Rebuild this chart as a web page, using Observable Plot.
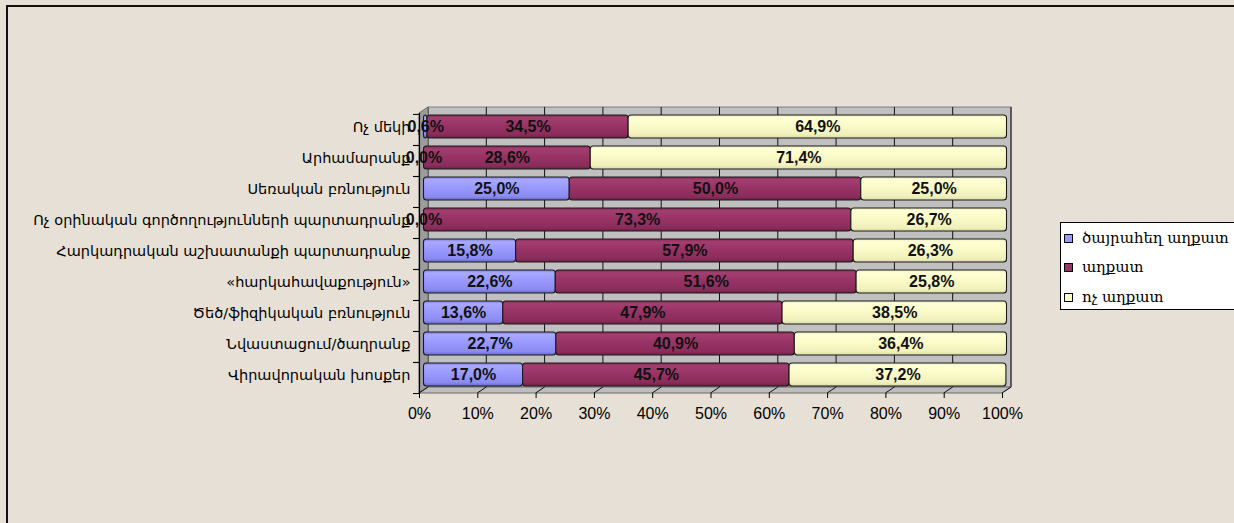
<!DOCTYPE html>
<html><head><meta charset="utf-8">
<script src="https://cdn.jsdelivr.net/npm/d3@7"></script>
<script src="https://cdn.jsdelivr.net/npm/@observablehq/plot@0.6"></script>
<style>
body{margin:0;background:#e7e0d6;}
#wrap{position:relative;width:1234px;height:523px;overflow:hidden;background:#e7e0d6;}
#border{position:absolute;left:6px;top:5px;width:1300px;height:600px;border:2px solid #111;box-sizing:border-box;}
#chart{position:absolute;left:0;top:0;}
#legend{position:absolute;left:1060px;top:222px;width:190px;height:86px;background:#fff;border:1px solid #000;font-family:"DejaVu Serif",serif;font-size:15px;color:#000;}
.item{position:absolute;left:3px;height:20px;line-height:20px;display:flex;align-items:center;white-space:nowrap;}
.sw{width:7px;height:7px;border:1px solid #000;margin-right:9px;}
</style></head><body><div id="wrap"><div id="border"></div><div id="chart"></div><div id="legend"></div></div>
<script>
const categories = [
  "Ոչ մեկի",
  "Արհամարանք",
  "Սեռական բռնություն",
  "Ոչ օրինական գործողությունների պարտադրանք",
  "Հարկադրական աշխատանքի պարտադրանք",
  "«հարկահավաքություն»",
  "Ծեծ/ֆիզիկական բռնություն",
  "Նվաստացում/ծաղրանք",
  "Վիրավորական խոսքեր"
];
const extremePoor = [0.6, 0.0, 25.0, 0.0, 15.8, 22.6, 13.6, 22.7, 17.0];
const poor = [34.5, 28.6, 50.0, 73.3, 57.9, 51.6, 47.9, 40.9, 45.7];
const notPoor = [64.9, 71.4, 25.0, 26.7, 26.3, 25.8, 38.5, 36.4, 37.2];
const seriesNames = ["ծայրահեղ աղքատ", "աղքատ", "ոչ աղքատ"];
const seriesColors = ["#9999ff", "#993366", "#ffffcc"];
const gradientIds = ["gBlue", "gMaroon", "gYellow"];
const xTicks = d3.range(0, 101, 10);

const seriesValues = [extremePoor, poor, notPoor];
const data = categories.flatMap((c, i) => seriesNames.map((s, k) => ({cat: c, series: s, value: seriesValues[k][i]})));
const fmt = v => v.toFixed(1).replace(".", ",") + "%";

const BX = 4.5, BY = -3;
const chart = Plot.plot({
  width: 1234, height: 523,
  marginLeft: 419, marginRight: 232, marginTop: 113, marginBottom: 130,
  style: {background: "transparent", overflow: "visible", fontFamily: "'Liberation Sans', 'DejaVu Sans', sans-serif", color: "#000"},
  x: {domain: [0, 100], axis: null, label: null},
  y: {domain: categories, paddingInner: 0.26, paddingOuter: 0.13, axis: null, label: null},
  color: {domain: seriesNames, range: gradientIds.map(id => `url(#${id})`)},
  marks: [
    Plot.barX(data, Plot.stackX({x: "value", y: "cat", z: "series", fill: "series", stroke: "#1a1a1a", strokeWidth: 1.1, rx: 3, dx: BX, dy: BY})),
    Plot.text(data, Plot.stackX({x: "value", y: "cat", z: "series", text: d => fmt(d.value), dx: BX, dy: BY, fontWeight: "bold", fontSize: 16, fill: "#111"})),
    Plot.axisY({label: null, tickSize: 0, tickPadding: 9, dy: BY, fontSize: 14.5, fontFamily: "DejaVu Sans"}),
    Plot.axisY({label: null, tickSize: 6, tickFormat: () => "", dy: 15.55}),
    Plot.axisY({label: null, tickSize: 6, tickFormat: () => "", dy: -15.55}),
    Plot.ruleX([0], {stroke: "#000", strokeWidth: 1.2}),
    Plot.axisX({label: null, ticks: xTicks, tickSize: 5, tickPadding: 9, tickFormat: d => d + "%", fontSize: 16})
  ]
});

// gradients
const svg = d3.select(chart);
const defs = svg.insert("defs", ":first-child");
const grads = {
  gBlue: [["0", "#7d7de0"], ["0.12", "#a9a9ff"], ["0.45", "#9999ff"], ["0.85", "#8a8af0"], ["1", "#6a6ac8"]],
  gMaroon: [["0", "#84294f"], ["0.12", "#a23f70"], ["0.45", "#993366"], ["0.85", "#8a2d5b"], ["1", "#6e2045"]],
  gYellow: [["0", "#ededbd"], ["0.12", "#ffffd6"], ["0.45", "#fbfbc8"], ["0.85", "#f0f0bc"], ["1", "#dcdca8"]]
};
for (const id of gradientIds) {
  const lg = defs.append("linearGradient").attr("id", id).attr("x1", 0).attr("y1", 0).attr("x2", 0).attr("y2", 1);
  for (const [o, c] of grads[id]) lg.append("stop").attr("offset", o).attr("stop-color", c);
}

// 3D wall, side face and floor derived from the scales
const sx = chart.scale("x"), sy = chart.scale("y");
const [y0, y1] = sy.range;
const X = v => sx.apply(v);
const DX = 9, DY = -6;
const g = d3.create("svg:g");
g.append("rect").attr("x", X(0) + DX).attr("y", y0 + DY).attr("width", X(100) - X(0)).attr("height", y1 - y0)
  .attr("fill", "#c0c0c0").attr("stroke", "#808080");
for (const t of xTicks) g.append("line").attr("x1", X(t) + DX).attr("x2", X(t) + DX).attr("y1", y0 + DY).attr("y2", y1 + DY).attr("stroke", "#111");
g.append("polygon").attr("points", [[X(0), y0], [X(0) + DX, y0 + DY], [X(0) + DX, y1 + DY], [X(0), y1]].join(" "))
  .attr("fill", "#9c9c9c").attr("stroke", "#6a6a6a");
g.append("polygon").attr("points", [[X(0), y1], [X(100), y1], [X(100) + DX, y1 + DY], [X(0) + DX, y1 + DY]].join(" "))
  .attr("fill", "#bdbdbd").attr("stroke", "#6a6a6a");
for (const t of xTicks) g.append("line").attr("x1", X(t)).attr("x2", X(t) + DX).attr("y1", y1).attr("y2", y1 + DY).attr("stroke", "#111");
const barG = chart.querySelector('g[aria-label="bar"]');
chart.insertBefore(g.node(), barG);

document.getElementById("chart").appendChild(chart);

// legend
const legend = d3.select("#legend");
const itemTops = [5, 34, 64];
seriesNames.forEach((s, k) => {
  const it = legend.append("div").attr("class", "item").style("top", itemTops[k] + "px");
  it.append("div").attr("class", "sw").style("background", seriesColors[k]);
  it.append("span").text(s);
});
</script></body></html>
